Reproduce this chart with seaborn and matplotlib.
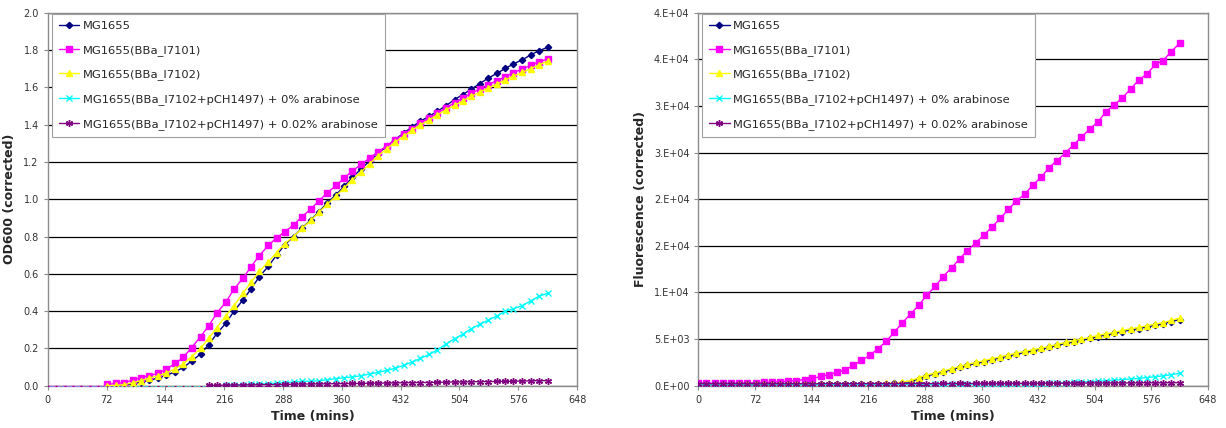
import numpy as np
import pandas as pd
import matplotlib
matplotlib.use("Agg")
import matplotlib.pyplot as plt
import seaborn as sns
from matplotlib.ticker import FormatStrFormatter

# time points (mins), shared by both panels
time = [0, 10, 21, 31, 41, 52, 62, 73, 83, 93,
        104, 114, 124, 135, 145, 156, 166, 176, 187, 197,
        207, 218, 228, 239, 249, 259, 270, 280, 290, 301,
        311, 322, 332, 342, 353, 363, 373, 384, 394, 404,
        415, 425, 436, 446, 456, 467, 477, 487, 498, 508,
        518, 529, 539, 550, 560, 570, 581, 591, 601, 612]

strains = ["MG1655", "MG1655(BBa_I7101)", "MG1655(BBa_I7102)",
           "MG1655(BBa_I7102+pCH1497) + 0% arabinose",
           "MG1655(BBa_I7102+pCH1497) + 0.02% arabinose"]

# OD600 (corrected) - early points sit just below the axis
od_mg1655 = [-0.02, -0.02, -0.02, -0.02, -0.02, -0.02, -0.02, -0.003, 0.000, 0.003,
             0.010, 0.019, 0.029, 0.041, 0.055, 0.075, 0.098, 0.132, 0.170, 0.220,
             0.280, 0.335, 0.400, 0.460, 0.520, 0.585, 0.640, 0.700, 0.755, 0.800,
             0.845, 0.889, 0.934, 0.979, 1.025, 1.070, 1.118, 1.164, 1.205, 1.245,
             1.283, 1.320, 1.355, 1.388, 1.418, 1.445, 1.472, 1.500, 1.534, 1.561,
             1.589, 1.620, 1.649, 1.675, 1.701, 1.725, 1.748, 1.773, 1.796, 1.814]
od_i7101 = [-0.02, -0.02, -0.02, -0.02, -0.02, -0.02, -0.02, 0.007, 0.012, 0.016,
            0.030, 0.043, 0.054, 0.066, 0.089, 0.120, 0.152, 0.204, 0.263, 0.321,
            0.390, 0.448, 0.518, 0.577, 0.639, 0.698, 0.752, 0.793, 0.825, 0.862,
            0.905, 0.948, 0.991, 1.034, 1.074, 1.114, 1.152, 1.188, 1.221, 1.254,
            1.285, 1.318, 1.350, 1.379, 1.407, 1.436, 1.462, 1.489, 1.517, 1.543,
            1.568, 1.591, 1.614, 1.636, 1.657, 1.679, 1.698, 1.718, 1.736, 1.752]
od_i7102 = [-0.02, -0.02, -0.02, -0.02, -0.02, -0.02, -0.02, 0.000, 0.002, 0.005,
            0.016, 0.027, 0.041, 0.053, 0.068, 0.091, 0.118, 0.155, 0.200, 0.254,
            0.312, 0.375, 0.430, 0.496, 0.555, 0.614, 0.664, 0.714, 0.762, 0.800,
            0.843, 0.886, 0.930, 0.973, 1.018, 1.062, 1.105, 1.148, 1.190, 1.232,
            1.270, 1.305, 1.338, 1.370, 1.398, 1.425, 1.452, 1.478, 1.503, 1.527,
            1.551, 1.574, 1.596, 1.618, 1.639, 1.660, 1.680, 1.700, 1.720, 1.740]
od_ara0 = [-0.02, -0.02, -0.02, -0.02, -0.02, -0.02, -0.02, -0.02, -0.02, -0.02,
           -0.02, -0.02, -0.02, -0.02, -0.02, -0.02, -0.02, -0.02, -0.02, -0.02,
           -0.02, 0.002, 0.004, 0.005, 0.007, 0.009, 0.011, 0.014, 0.017, 0.020,
           0.023, 0.024, 0.026, 0.032, 0.038, 0.043, 0.047, 0.054, 0.063, 0.071,
           0.082, 0.093, 0.110, 0.127, 0.146, 0.168, 0.192, 0.222, 0.252, 0.276,
           0.305, 0.329, 0.351, 0.374, 0.400, 0.412, 0.430, 0.454, 0.479, 0.496]
od_ara002 = [-0.02, -0.02, -0.02, -0.02, -0.02, -0.02, -0.02, -0.02, -0.02, -0.02,
             -0.02, -0.02, -0.02, -0.02, -0.02, -0.02, -0.02, -0.02, -0.02, 0.002,
             0.002, 0.003, 0.003, 0.004, 0.004, 0.005, 0.006, 0.006, 0.007, 0.008,
             0.009, 0.009, 0.010, 0.010, 0.011, 0.011, 0.012, 0.012, 0.013, 0.014,
             0.014, 0.015, 0.016, 0.016, 0.017, 0.017, 0.018, 0.019, 0.020, 0.020,
             0.021, 0.022, 0.022, 0.023, 0.023, 0.024, 0.025, 0.026, 0.027, 0.027]

# Fluorescence (corrected)
fl_mg1655 = [100, 100, 110, 110, 110, 120, 120, 120, 130, 130,
             130, 140, 140, 150, 150, 150, 160, 160, 170, 170,
             180, 190, 200, 210, 240, 320, 450, 740, 1050, 1270,
             1480, 1720, 1960, 2180, 2400, 2580, 2790, 3000, 3180, 3390,
             3570, 3750, 3930, 4110, 4320, 4530, 4720, 4890, 5070, 5270,
             5450, 5600, 5810, 5990, 6130, 6310, 6480, 6640, 6880, 7100]
fl_i7101 = [300, 280, 270, 270, 280, 300, 310, 330, 360, 380,
            430, 470, 550, 660, 780, 990, 1200, 1430, 1710, 2210,
            2710, 3250, 3960, 4750, 5750, 6710, 7710, 8610, 9680, 10640,
            11710, 12640, 13600, 14500, 15350, 16150, 17000, 17950, 18900, 19800,
            20540, 21500, 22390, 23390, 24140, 25000, 25820, 26640, 27570, 28290,
            29360, 30140, 30860, 31860, 32790, 33390, 34460, 34860, 35820, 36710]
fl_i7102 = [120, 120, 130, 130, 130, 140, 140, 150, 150, 150,
            160, 160, 170, 170, 180, 180, 190, 190, 200, 200,
            210, 220, 230, 250, 300, 390, 540, 860, 1140, 1360,
            1570, 1820, 2070, 2290, 2500, 2680, 2890, 3110, 3290, 3500,
            3680, 3860, 4040, 4210, 4430, 4640, 4820, 5000, 5180, 5390,
            5570, 5710, 5930, 6110, 6250, 6430, 6610, 6750, 7000, 7250]
fl_ara0 = [120, 110, 110, 100, 100, 110, 100, 100, 110, 100,
           100, 110, 100, 100, 110, 100, 110, 110, 100, 110,
           110, 120, 110, 120, 120, 130, 120, 130, 130, 140,
           140, 150, 150, 160, 160, 170, 170, 180, 180, 190,
           200, 210, 230, 250, 280, 310, 350, 380, 430, 480,
           540, 600, 660, 720, 790, 870, 960, 1060, 1180, 1330]
fl_ara002 = [200, 210, 200, 200, 210, 200, 210, 200, 200, 210,
             210, 200, 210, 210, 200, 210, 220, 210, 210, 220,
             210, 220, 220, 210, 220, 230, 220, 230, 230, 220,
             240, 230, 240, 230, 240, 250, 240, 250, 250, 260,
             250, 260, 260, 270, 260, 270, 280, 270, 280, 290,
             280, 290, 300, 290, 300, 310, 300, 310, 320, 320]

x_ticks = [0, 72, 144, 216, 288, 360, 432, 504, 576, 648]
od_ticks = [0.0, 0.2, 0.4, 0.6, 0.8, 1.0, 1.2, 1.4, 1.6, 1.8, 2.0]
fl_ticks = [0, 5000, 10000, 15000, 20000, 25000, 30000, 35000, 40000]
fl_tick_labels = ["0.E+00", "5.E+03", "1.E+04", "2.E+04", "2.E+04",
                  "3.E+04", "3.E+04", "4.E+04", "4.E+04"]

colors = ["#000080", "#FF00FF", "#FFFF00", "#00FFFF", "#800080"]
markers = ["D", "s", "^", "x", (6, 2, 0)]
msizes = [3.2, 4.2, 4.5, 4.5, 5.0]

sns.set_style("white")
plt.rcParams["font.family"] = ["DejaVu Sans"]

fig = plt.figure(figsize=(12.26, 4.28), dpi=100)
ax1 = fig.add_axes([0.039, 0.0988, 0.4317, 0.8715])
ax2 = fig.add_axes([0.5697, 0.0988, 0.4156, 0.8715])


def draw_panel(ax, series, ylim, yticks, ylabel):
    for vals, name, c, m, ms in zip(series, strains, colors, markers, msizes):
        sns.lineplot(x=time, y=vals, ax=ax, color=c, marker=m, markersize=ms,
                     markeredgecolor=c, markeredgewidth=1.0, linewidth=1.0,
                     label=name, zorder=3)
    ax.set_xlim(0, 648)
    ax.set_ylim(*ylim)
    ax.set_xticks(x_ticks)
    ax.set_yticks(yticks)
    ax.yaxis.grid(True, color="black", linewidth=0.9)
    ax.xaxis.grid(False)
    ax.set_axisbelow(True)
    for sp in ax.spines.values():
        sp.set_color("#8c8c8c")
        sp.set_linewidth(1.0)
    ax.tick_params(axis="both", labelsize=7, colors="#333333", length=3,
                   width=0.8, direction="out", left=True, bottom=True)
    ax.tick_params(axis="both", color="#8c8c8c")
    ax.set_xlabel("Time (mins)", fontsize=9, fontweight="bold", labelpad=4)
    ax.set_ylabel(ylabel, fontsize=9, fontweight="bold", labelpad=5)


draw_panel(ax1, [od_mg1655, od_i7101, od_i7102, od_ara0, od_ara002],
           (0, 2.0), od_ticks, "OD600 (corrected)")
ax1.yaxis.set_major_formatter(FormatStrFormatter("%.1f"))

draw_panel(ax2, [fl_mg1655, fl_i7101, fl_i7102, fl_ara0, fl_ara002],
           (0, 40000), fl_ticks, "Fluorescence (corrected)")
ax2.set_yticklabels(fl_tick_labels)

for ax, xpos in [(ax1, 0.0423), (ax2, 0.5726)]:
    leg = ax.legend(loc="upper left", bbox_to_anchor=(xpos, 0.967),
                    bbox_transform=fig.transFigure, borderaxespad=0,
                    fontsize=8.25, frameon=True, fancybox=False,
                    edgecolor="#a0a0a0", framealpha=1, labelspacing=1.2,
                    handlelength=1.8, handletextpad=0.3, borderpad=0.6)
    leg.get_frame().set_linewidth(0.8)
    leg.set_zorder(5)

fig.savefig("out.png", dpi=100)
